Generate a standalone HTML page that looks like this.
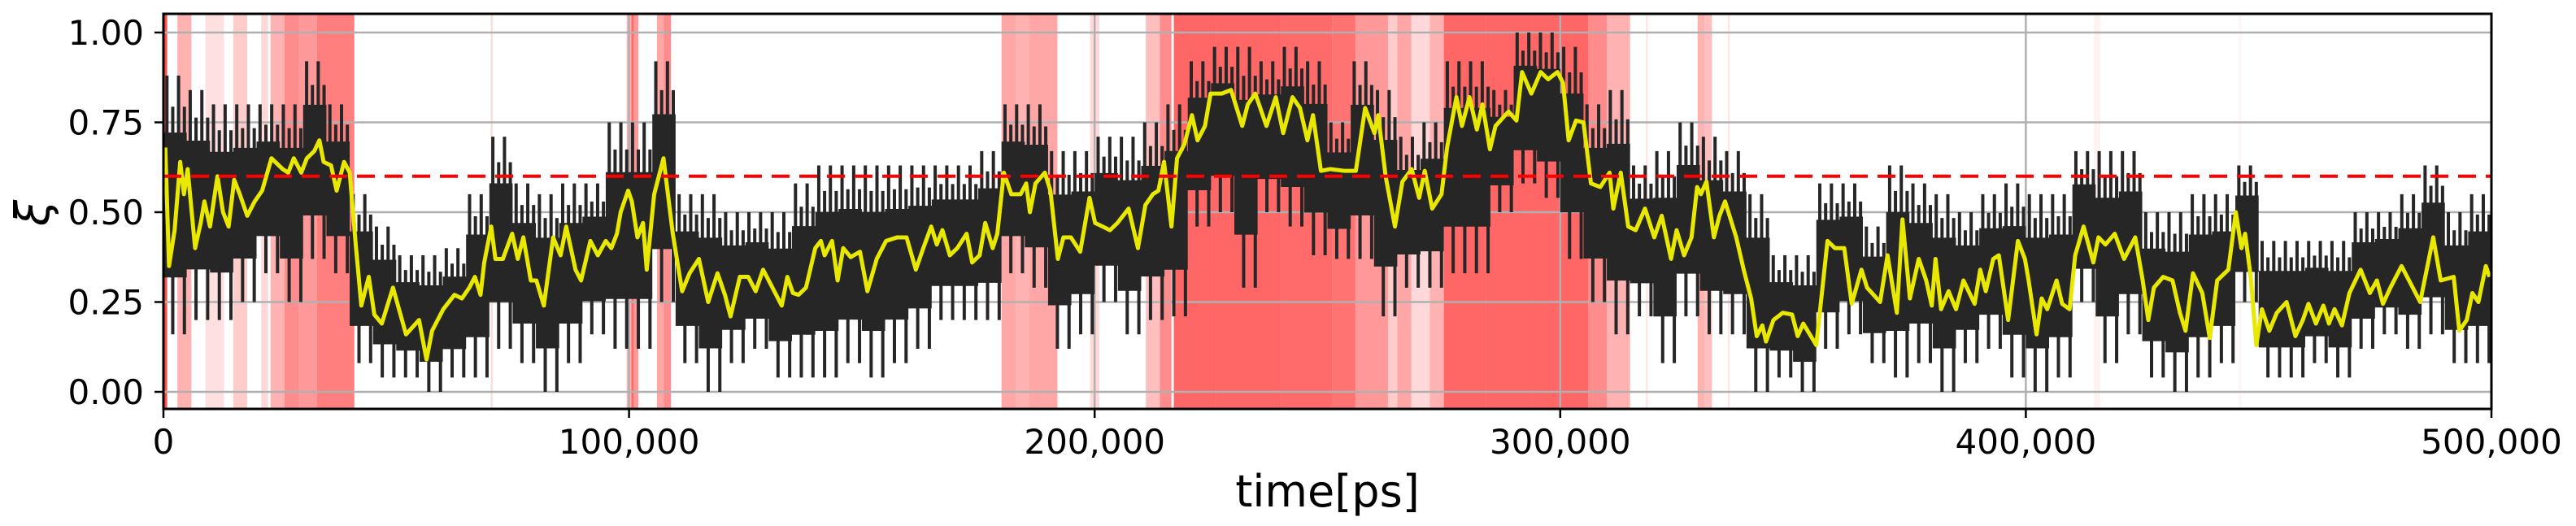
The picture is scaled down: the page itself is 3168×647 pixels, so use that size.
<!DOCTYPE html>
<html><head><meta charset="utf-8"><style>
html,body{margin:0;padding:0;background:#fff;}
svg{display:block;}
text{font-family:"DejaVu Sans","Liberation Sans",sans-serif;fill:#000;}
</style></head><body>
<svg id="chart" width="3168" height="647" viewBox="0 0 3168 647" xmlns="http://www.w3.org/2000/svg">
<g id="spans"></g>
<g id="grid"></g>
<g id="black"></g>
<g id="yellow"></g>
<g id="thr"></g>
<g id="axes"></g>
</svg>
<script>
// time in units of 1000 ps
const smoothT = [0.4,1.2,2.4,3.6,4.4,5.2,6.8,8.0,8.8,10.0,11.6,12.8,14.0,15.2,16.4,18.0,19.6,21.2,23.2,25.6,26.8,28.0,29.6,30.8,32.4,33.5,34.4,36.0,37.2,38.8,40.0,41.3,42.5,44.1,45.3,46.9,49.3,52.1,54.9,56.5,57.7,60.1,62.5,64.1,65.7,66.9,68.1,68.9,70.4,71.3,72.9,74.9,76.1,77.3,78.9,80.1,81.7,83.7,85.3,86.5,88.5,89.7,91.7,93.3,95.0,96.2,97.4,98.2,99.8,100.6,101.8,103.0,103.8,105.4,107.4,109.4,111.4,113.0,115.0,117.0,119.0,120.6,121.8,123.8,
125.6,127.2,128.8,131.2,132.8,134.0,135.2,136.4,138.0,140.0,141.2,142.0,143.6,144.8,146.0,147.6,149.6,151.2,153.2,155.2,157.6,159.6,161.6,163.2,164.9,166.1,167.3,168.9,170.5,172.5,173.7,175.3,176.5,178.1,179.1,180.5,182.1,184.1,185.3,186.1,187.3,189.3,190.5,192.1,193.3,194.9,196.9,198.9,200.1,201.7,203.3,204.9,207.3,209.3,210.9,212.5,213.7,214.9,216.5,217.7,219.3,220.9,222.1,223.7,224.9,227.3,229.3,231.7,232.9,234.5,236.9,238.9,240.5,242.5,244.1,245.7,246.9,248.6,250.6,
253.7,256.1,258.1,260.1,260.9,262.5,264.5,266.1,268.1,269.7,270.9,272.5,274.5,275.7,277.7,278.9,280.5,282.1,283.3,284.9,286.1,288.9,290.6,291.8,293.8,295.8,297.4,299.4,300.6,301.8,303.4,305.0,306.6,308.6,310.6,311.4,313.0,314.6,316.2,318.2,320.2,321.8,323.8,325.0,326.6,328.2,329.4,330.2,331.4,333.0,334.2,335.4,337.8,339.4,341.0,342.2,343.4,344.2,345.8,347.8,349.8,351.0,352.2,355.0,357.4,359.0,361.0,362.6,364.7,365.9,368.7,370.3,372.3,373.5,375.1,377.0,
378.6,379.8,380.6,381.8,383.4,385.0,386.6,389.0,390.2,391.4,393.0,394.2,396.2,398.3,399.8,400.6,402.3,403.4,404.6,406.6,407.8,409.4,410.6,412.4,414.5,415.6,417.1,419.1,421.1,423.5,425.1,426.3,427.5,429.5,431.5,433.1,434.3,435.9,437.9,439.5,441.1,443.5,445.1,446.3,447.1,448.3,449.5,450.7,452.3,453.9,456.0,457.9,459.5,460.7,462.3,463.9,465.1,466.3,467.9,469.5,471.9,473.9,475.4,476.7,478.3,480.7,482.3,484.7,487.5,489.1,491.9,493.1,494.7,495.9,497.2,498.8,499.6];
const smoothV = [0.68,0.35,0.45,0.64,0.55,0.62,0.40,0.47,0.53,0.46,0.60,0.50,0.46,0.59,0.55,0.49,0.53,0.56,0.65,0.62,0.61,0.65,0.61,0.65,0.67,0.70,0.64,0.63,0.56,0.64,0.61,0.41,0.24,0.32,0.215,0.19,0.29,0.16,0.20,0.09,0.17,0.23,0.27,0.26,0.29,0.32,0.27,0.36,0.46,0.37,0.37,0.44,0.37,0.43,0.31,0.31,0.24,0.43,0.38,0.46,0.34,0.31,0.42,0.38,0.42,0.40,0.44,0.50,0.56,0.53,0.43,0.47,0.34,0.55,0.65,0.44,0.28,0.33,0.37,0.25,0.33,0.27,0.21,0.32,
0.32,0.28,0.34,0.28,0.24,0.32,0.275,0.27,0.29,0.40,0.42,0.38,0.42,0.31,0.40,0.375,0.39,0.28,0.37,0.42,0.43,0.43,0.34,0.40,0.46,0.41,0.45,0.38,0.40,0.44,0.36,0.38,0.47,0.40,0.44,0.61,0.55,0.55,0.58,0.50,0.58,0.61,0.56,0.37,0.43,0.43,0.39,0.54,0.47,0.46,0.45,0.47,0.51,0.40,0.52,0.55,0.56,0.64,0.46,0.65,0.69,0.77,0.70,0.74,0.83,0.83,0.84,0.74,0.80,0.83,0.74,0.82,0.72,0.82,0.79,0.70,0.77,0.615,0.62,
0.615,0.615,0.79,0.72,0.77,0.60,0.46,0.585,0.62,0.54,0.615,0.51,0.55,0.68,0.82,0.74,0.82,0.73,0.80,0.675,0.74,0.78,0.755,0.89,0.83,0.89,0.87,0.89,0.86,0.70,0.755,0.75,0.58,0.57,0.61,0.51,0.61,0.46,0.45,0.51,0.43,0.49,0.37,0.45,0.38,0.43,0.57,0.55,0.585,0.43,0.49,0.53,0.43,0.34,0.26,0.155,0.185,0.14,0.20,0.22,0.215,0.155,0.19,0.13,0.42,0.40,0.40,0.245,0.34,0.29,0.25,0.38,0.22,0.48,0.26,0.37,
0.31,0.24,0.37,0.23,0.28,0.23,0.31,0.245,0.34,0.28,0.37,0.38,0.20,0.42,0.37,0.31,0.16,0.26,0.23,0.31,0.245,0.23,0.38,0.46,0.36,0.43,0.41,0.44,0.37,0.43,0.31,0.20,0.29,0.32,0.31,0.22,0.17,0.33,0.275,0.15,0.31,0.34,0.50,0.40,0.44,0.32,0.13,0.23,0.17,0.22,0.25,0.155,0.20,0.245,0.19,0.24,0.19,0.23,0.185,0.275,0.34,0.275,0.31,0.245,0.29,0.35,0.31,0.25,0.43,0.31,0.32,0.17,0.20,0.275,0.25,0.35,0.32];
// raw series envelope per 5,000 ps bin
const rawHi = [0.88,0.84,0.80,0.80,0.80,0.80,0.92,0.80,0.55,0.46,0.38,0.38,0.40,0.55,0.71,0.58,0.55,0.58,0.58,0.75,0.75,0.92,0.55,0.55,0.50,
0.50,0.50,0.58,0.63,0.63,0.63,0.63,0.63,0.63,0.63,0.67,0.80,0.80,0.67,0.67,0.71,0.71,0.75,0.80,0.92,0.96,0.96,0.92,0.96,0.92,
0.75,0.92,0.84,0.71,0.75,0.92,0.92,0.84,1.0,1.0,0.96,0.80,0.84,0.63,0.67,0.75,0.71,0.67,0.55,0.38,0.38,0.58,0.58,0.46,0.63,
0.58,0.55,0.50,0.55,0.58,0.55,0.55,0.67,0.67,0.67,0.50,0.50,0.55,0.55,0.63,0.42,0.42,0.42,0.42,0.50,0.50,0.55,0.63,0.50,0.55];
const rawLo = [0.16,0.20,0.20,0.25,0.33,0.25,0.37,0.33,0.08,0.04,0.04,0.0,0.04,0.04,0.12,0.08,0.0,0.08,0.16,0.12,0.12,0.25,0.08,0.0,0.08,
0.12,0.04,0.04,0.04,0.08,0.04,0.08,0.12,0.20,0.20,0.20,0.33,0.29,0.12,0.16,0.25,0.16,0.20,0.21,0.46,0.50,0.29,0.50,0.46,0.38,
0.37,0.37,0.21,0.29,0.29,0.33,0.33,0.50,0.58,0.54,0.37,0.25,0.16,0.21,0.08,0.21,0.16,0.16,0.0,0.04,0.0,0.12,0.16,0.08,0.04,
0.08,0.0,0.08,0.12,0.04,0.0,0.04,0.25,0.08,0.16,0.04,0.0,0.04,0.08,0.25,0.04,0.04,0.08,0.04,0.12,0.16,0.12,0.16,0.08,0.08];
const spanStart = [0,3,9,15,21,23,26,29,33,70.3,99.5,100.5,106,107.5,180,183,186,199,211,214,217,226,240,251,256,263,265,268,272,275,284,294,306,310,318.4,329.5,331,336,414.6,445.8];
const spanEnd   = [0.8,6,13,18,22.5,26,29,33,41,70.7,101,102,107.5,109,183,186,192,201,214,216.5,226,240,251,256,263,265,268,272,275,284,294,306,310,315,318.8,331,332.6,336.4,416,446.2];
const spanAlpha = [0.7,0.3,0.12,0.2,0.15,0.3,0.45,0.4,0.5,0.15,0.3,0.4,0.35,0.45,0.35,0.3,0.35,0.15,0.25,0.45,0.6,0.6,0.58,0.55,0.4,0.2,0.35,0.15,0.3,0.6,0.6,0.6,0.45,0.3,0.1,0.3,0.25,0.1,0.05,0.05];
const yTicks = [0,0.25,0.5,0.75,1.0];
const yTickLabels = ["0.00","0.25","0.50","0.75","1.00"];
const xTicks = [0,100,200,300,400,500];
const xTickLabels = ["0","100,000","200,000","300,000","400,000","500,000"];
const threshold = [0.6];
const binWidth = 5;

const NS="http://www.w3.org/2000/svg";
const X0=201,X1=3064,Y0=482,YS=442,PTOP=17,PBOT=503;
function sx(t){return X0+t/500*(X1-X0);}
function sy(v){return Y0-v*YS;}
function mk(tag,parent,attrs){const e=document.createElementNS(NS,tag);for(const k in attrs)e.setAttribute(k,attrs[k]);parent.appendChild(e);return e;}

const gS=document.getElementById('spans');
spanStart.forEach((s,i)=>{
  const r=mk('rect',gS,{x:sx(s),y:PTOP,width:Math.max(1.5,sx(spanEnd[i])-sx(s)),height:PBOT-PTOP,fill:'#ff0000','fill-opacity':spanAlpha[i]});
  
  
});

const gG=document.getElementById('grid');
yTicks.forEach(v=>{
  const l=mk('line',gG,{x1:X0,x2:X1,y1:sy(v),y2:sy(v),stroke:'#b0b0b0','stroke-width':2.5});
  
  
});
xTicks.forEach(t=>{
  const l=mk('line',gG,{x1:sx(t),x2:sx(t),y1:PTOP,y2:PBOT,stroke:'#b0b0b0','stroke-width':2.5});
  
  
});

const gB=document.getElementById('black');
const coreTop=[],coreBot=[];
rawHi.forEach((h,i)=>{
  const lo=rawLo[i],r=h-lo;
  const a=sx(i*binWidth),b=sx((i+1)*binWidth);
  const ch=h-0.22*r,cl=lo+0.22*r;
  coreTop.push(a+','+sy(ch),b+','+sy(ch));
  coreBot.unshift(b+','+sy(cl),a+','+sy(cl));
});
const core=mk('polygon',gB,{points:coreTop.concat(coreBot).join(' '),fill:'#262626'});


rawHi.forEach((h,i)=>{
  const lo=rawLo[i],r=h-lo;
  const w=sx(binWidth)-sx(0);
  [0.15,0.4,0.65,0.9].forEach((f,k)=>{
    const xx=sx(i*binWidth)+f*w;
    const y1=k%2===0?sy(h):sy(h-0.12*r);
    const y2=k%2===0?sy(lo+0.3*r):sy(lo);
    const s=mk('line',gB,{x1:xx,x2:xx,y1:y1,y2:y2,stroke:'#262626','stroke-width':4});
    
    
  });
});

const gY=document.getElementById('yellow');
const nY=Math.min(smoothT.length,smoothV.length);
const yPts=[];
for(let i=0;i<nY;i++)yPts.push(sx(smoothT[i])+','+sy(smoothV[i]));
const pl=mk('polyline',gY,{points:yPts.join(' '),fill:'none',stroke:'#e8e800','stroke-width':5,'stroke-linejoin':'round'});



const gT=document.getElementById('thr');
const tl=mk('line',gT,{x1:X0,x2:X1,y1:sy(threshold[0]),y2:sy(threshold[0]),stroke:'#ff0000','stroke-width':4,'stroke-dasharray':'22 12'});



const gA=document.getElementById('axes');
const fr=mk('rect',gA,{x:X0,y:PTOP,width:X1-X0,height:PBOT-PTOP,fill:'none',stroke:'#000','stroke-width':3});


yTicks.forEach((v,i)=>{
  const tk=mk('line',gA,{x1:X0-11,x2:X0,y1:sy(v),y2:sy(v),stroke:'#000','stroke-width':2.5});
  
  
  const tx=mk('text',gA,{x:177,y:sy(v)+15,'text-anchor':'end','font-size':42});
  tx.textContent=yTickLabels[i];
  
  
});
xTicks.forEach((t,i)=>{
  const tk=mk('line',gA,{x1:sx(t),x2:sx(t),y1:PBOT,y2:PBOT+11,stroke:'#000','stroke-width':2.5});
  
  
  const tx=mk('text',gA,{x:sx(t),y:558,'text-anchor':'middle','font-size':42});
  tx.textContent=xTickLabels[i];
  
  
});
const xl=mk('text',gA,{x:(X0+X1)/2,y:623,'text-anchor':'middle','font-size':54});
xl.textContent='time[ps]';


const yl=mk('text',gA,{x:0,y:0,'text-anchor':'middle','font-size':58,'font-style':'italic',transform:'translate(60,262) rotate(-90)'});
yl.textContent='ξ';


</script>
</body></html>
